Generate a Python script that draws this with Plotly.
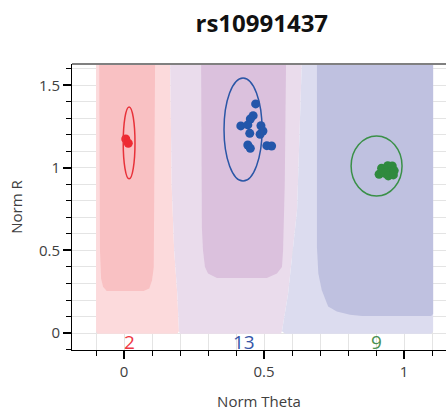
import plotly.graph_objects as go

# ---- data ----
title_text = "rs10991437"
cluster_names = ["AA", "AB", "BB"]
cluster_counts = [2, 13, 9]
count_label_x = [0.018, 0.428, 0.9]
count_label_y = [-0.055, -0.055, -0.055]

red_theta = [0.006, 0.015]
red_r = [1.176, 1.150]

blue_theta = [0.470, 0.461, 0.451, 0.417, 0.442, 0.449, 0.489, 0.496, 0.486, 0.442, 0.451, 0.510, 0.527]
blue_r = [1.388, 1.317, 1.297, 1.255, 1.261, 1.210, 1.256, 1.224, 1.204, 1.139, 1.119, 1.135, 1.133]

green_theta = [0.911, 0.920, 0.942, 0.958, 0.932, 0.954, 0.965, 0.944, 0.962]
green_r = [0.962, 0.998, 1.014, 1.012, 0.968, 0.978, 0.984, 0.952, 0.958]

ellipse_cx = [0.018, 0.425, 0.902]
ellipse_cy = [1.152, 1.233, 1.012]
ellipse_rx = [0.021, 0.068, 0.091]
ellipse_ry = [0.218, 0.312, 0.182]

# cluster call regions (outer = light, inner = dark)
outer_aa_x = [-0.1, -0.1, -0.095, 0.19, 0.196, 0.19, 0.179, 0.17, 0.164]
outer_aa_y = [1.7, 0.01, -0.005, -0.005, 0.01, 0.24, 0.5, 0.9, 1.7]
outer_ab_x = [0.164, 0.17, 0.179, 0.19, 0.196, 0.2, 0.56, 0.564, 0.586, 0.618, 0.636]
outer_ab_y = [1.7, 0.9, 0.5, 0.24, 0.01, -0.005, -0.005, 0.01, 0.24, 0.745, 1.7]
outer_bb_x = [0.636, 0.618, 0.586, 0.564, 0.575, 1.098, 1.104, 1.104]
outer_bb_y = [1.7, 0.745, 0.24, 0.01, -0.005, -0.005, 0.01, 1.7]

inner_aa_x = [-0.089, -0.086, -0.082, -0.075, -0.062, 0.07, 0.09, 0.1, 0.106, 0.108, 0.111]
inner_aa_y = [1.7, 0.5, 0.33, 0.28, 0.255, 0.255, 0.27, 0.32, 0.4, 0.8, 1.7]
inner_ab_x = [0.275, 0.278, 0.282, 0.289, 0.3, 0.332, 0.51, 0.546, 0.564, 0.568, 0.574, 0.579]
inner_ab_y = [1.7, 0.64, 0.5, 0.4, 0.36, 0.333, 0.333, 0.36, 0.4, 0.5, 0.9, 1.7]
inner_bb_x = [0.689, 0.689, 0.694, 0.706, 0.729, 0.76, 0.807, 0.85, 1.097, 1.104, 1.104]
inner_bb_y = [1.7, 0.52, 0.36, 0.26, 0.16, 0.13, 0.11, 0.103, 0.103, 0.115, 1.7]

x_range = [-0.186, 1.15]
y_range = [-0.103, 1.63]

# ---- styles ----
outer_colors = ["#FCDADC", "#EADCEC", "#DCDCEF"]
inner_colors = ["#F9C1C3", "#DBC1DD", "#BFC1E0"]
point_colors = ["#EE2B33", "#2356AA", "#2F8A3E"]
ellipse_colors = ["#E8323A", "#2A56A6", "#3A9048"]
label_colors = ["#EE3844", "#3656A8", "#4A9050"]
FONT = "Open Sans, Noto Sans, sans-serif"

fig = go.Figure()

regions = [
    (outer_aa_x, outer_aa_y, outer_colors[0]),
    (outer_ab_x, outer_ab_y, outer_colors[1]),
    (outer_bb_x, outer_bb_y, outer_colors[2]),
    (inner_aa_x, inner_aa_y, inner_colors[0]),
    (inner_ab_x, inner_ab_y, inner_colors[1]),
    (inner_bb_x, inner_bb_y, inner_colors[2]),
]
for rx, ry, col in regions:
    fig.add_trace(go.Scatter(x=rx, y=ry, mode="lines", fill="toself",
                             fillcolor=col, line=dict(width=0, color=col),
                             hoverinfo="skip", showlegend=False))

for i in range(3):
    fig.add_shape(type="circle", xref="x", yref="y",
                  x0=ellipse_cx[i] - ellipse_rx[i], x1=ellipse_cx[i] + ellipse_rx[i],
                  y0=ellipse_cy[i] - ellipse_ry[i], y1=ellipse_cy[i] + ellipse_ry[i],
                  line=dict(color=ellipse_colors[i], width=1.5), layer="above")

for xs, ys, col, name in [(red_theta, red_r, point_colors[0], cluster_names[0]),
                          (blue_theta, blue_r, point_colors[1], cluster_names[1]),
                          (green_theta, green_r, point_colors[2], cluster_names[2])]:
    fig.add_trace(go.Scatter(x=xs, y=ys, mode="markers", name=name,
                             marker=dict(size=9, color=col, line=dict(width=0)),
                             showlegend=False))

for i in range(3):
    fig.add_annotation(x=count_label_x[i], y=count_label_y[i], xref="x", yref="y",
                       text=str(cluster_counts[i]), showarrow=False,
                       font=dict(family=FONT, size=19, color=label_colors[i]))

# top border
fig.add_shape(type="line", xref="paper", yref="paper", x0=0, x1=1, y0=1, y1=1,
              line=dict(color="#808080", width=2), layer="above")

axis_common = dict(
    showline=True, linecolor="#000000", linewidth=1,
    ticks="outside", ticklen=8, tickcolor="#000000", tickwidth=1.5,
    showgrid=True, gridcolor="#E4E4E4", gridwidth=1,
    zeroline=False, dtick=0.5,
    tickfont=dict(family=FONT, size=15, color="#404040"),
    minor=dict(dtick=0.1, ticks="outside", ticklen=5, tickcolor="#000000",
               tickwidth=1.2, showgrid=True, gridcolor="#E4E4E4", gridwidth=1),
)

fig.update_layout(
    width=446, height=414,
    margin=dict(l=72, r=0, t=64, b=64),
    paper_bgcolor="white", plot_bgcolor="white",
    title=dict(text="<b>" + title_text + "</b>", x=0.587, xref="container",
               xanchor="center", y=1 - 23.5 / 414, yref="container", yanchor="middle",
               font=dict(family=FONT, size=24, color="#111111")),
    xaxis=dict(range=x_range, tick0=0,
               title=dict(text="Norm Theta", standoff=16,
                          font=dict(family=FONT, size=15, color="#404040")),
               **axis_common),
    yaxis=dict(range=y_range, tick0=0,
               title=dict(text="Norm R", standoff=12,
                          font=dict(family=FONT, size=15, color="#404040")),
               **axis_common),
)

fig.write_html("out.html", config={"displayModeBar": False},
               post_script="document.body.style.margin='0';")
